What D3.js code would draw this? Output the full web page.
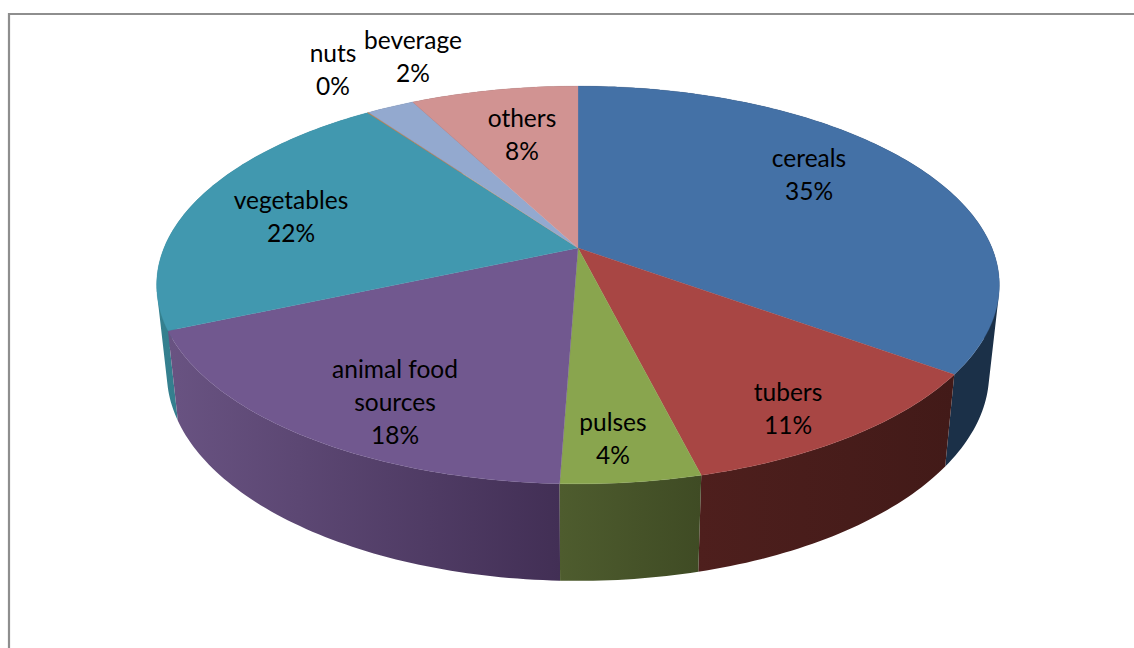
<!DOCTYPE html>
<html>
<head>
<meta charset="utf-8">
<script src="https://cdn.jsdelivr.net/npm/d3@7"></script>
<style>
html,body{margin:0;padding:0;background:#fff;overflow:hidden}
svg{display:block}
text{font-family:Lato,"Open Sans",sans-serif;fill:#000}
</style>
</head>
<body>
<svg id="chart" width="1134" height="648"></svg>
<script>
// Data
const categories = ["cereals","tubers","pulses","animal food sources","vegetables","nuts","beverage","others"];
const values = [35.0,11.1,4.5,17.9,21.6,0.05,2.2,7.7];
const percentLabels = ["35%","11%","4%","18%","22%","0%","2%","8%"];

// Styles and layout (not data)
const topColors = ["#4471A6","#A84644","#89A54E","#71588F","#4198AF","#DB843D","#93A9CF","#D19392"];
const wallLeft  = ["#1B3048","#4E1F1D","#4E5C2E","#695382","#35808F","#8A5020","#5A6A86","#80595A"];
const wallRight = ["#1B3048","#421A18","#3F4B24","#422F55","#2F7488","#8A5020","#5A6A86","#80595A"];
const labelLines = [["cereals"],["tubers"],["pulses"],["animal food","sources"],["vegetables"],["nuts"],["beverage"],["others"]];
const labelCentre = [[809,175],[788,409],[613,439],[395,402],[291,217],[333,70],[413,57],[522,135]];
const lineHeight = 33, fontSize = 24.5;

const cx = 578, persp = 0.186;
const topPlane  = {a:414, b:192, y0:248};
const basePlane = {a:404, b:200.7, y0:334.3};

const svg = d3.select("#chart");
// frame
svg.append("path").attr("d","M9,648V14H1134").attr("fill","none")
   .attr("stroke","#8E8E8E").attr("stroke-width",2.2);

const pie = d3.pie().sort(null).value(d=>d)(values);

function proj(plane, ang){
  const u = Math.sin(ang), v = -Math.cos(ang), w = 1 - persp*v;
  return [cx + plane.a*u/w, plane.y0 + plane.b*v/w];
}
function arcPts(plane,a0,a1,stepDeg){
  const n = Math.max(1,Math.ceil((a1-a0)/(stepDeg*Math.PI/180)));
  return d3.range(n+1).map(i=>proj(plane,a0+(a1-a0)*i/n));
}
const line = d3.line().curve(d3.curveLinearClosed);
const defs = svg.append("defs");

// walls: one path per slice (a strip of same-wound quads, so the tangent silhouette is filled)
const walls = pie.map((p,i)=>{
  const topArc = arcPts(topPlane,p.startAngle,p.endAngle,1);
  const baseArc = arcPts(basePlane,p.startAngle,p.endAngle,1);
  const d = d3.range(topArc.length-1).map(k=>{
    const q = [topArc[k],topArc[k+1],baseArc[k+1],baseArc[k]];
    return line(d3.polygonArea(q) < 0 ? q.reverse() : q);
  }).join("");
  const xs = d3.extent([...topArc,...baseArc],q=>q[0]);
  const id = "wall"+i;
  const g = defs.append("linearGradient").attr("id",id)
    .attr("gradientUnits","userSpaceOnUse")
    .attr("x1",xs[0]).attr("x2",xs[1]).attr("y1",0).attr("y2",0);
  g.append("stop").attr("offset",0).attr("stop-color",wallLeft[i]);
  g.append("stop").attr("offset",1).attr("stop-color",wallRight[i]);
  return {d,id,depth:-Math.cos((p.startAngle+p.endAngle)/2)};
}).sort((a,b)=>a.depth-b.depth);
svg.append("g").selectAll("path").data(walls).join("path")
  .attr("d",w=>w.d).attr("fill",w=>`url(#${w.id})`).attr("fill-rule","nonzero");

// top face
svg.append("g").selectAll("path").data(pie).join("path")
  .attr("d",p=>line([[cx,topPlane.y0],...arcPts(topPlane,p.startAngle,p.endAngle,1)]))
  .attr("fill",(p,i)=>topColors[i]).attr("stroke",(p,i)=>topColors[i]).attr("stroke-width",0.3);

// labels
const lab = svg.append("g").attr("text-anchor","middle").attr("font-size",fontSize);
categories.forEach((c,i)=>{
  const lines = [...labelLines[i],percentLabels[i]];
  const [lx,ly] = labelCentre[i];
  lines.forEach((s,j)=>{
    lab.append("text").attr("x",lx)
      .attr("y",ly+(j-(lines.length-1)/2)*lineHeight+8.5).text(s);
  });
});
</script>
</body>
</html>
